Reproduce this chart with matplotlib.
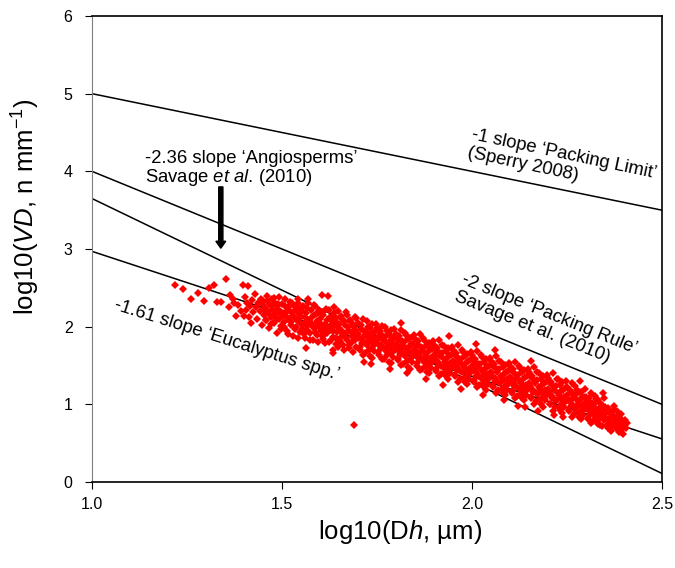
import numpy as np
import matplotlib
matplotlib.use('Agg')
import matplotlib.pyplot as plt

plt.rcParams['font.family'] = 'Liberation Sans'
plt.rcParams['mathtext.fontset'] = 'custom'
plt.rcParams['mathtext.rm'] = 'Liberation Sans'
plt.rcParams['mathtext.it'] = 'Liberation Sans:italic'

# reference scaling lines: log10(VD) = intercept + slope * log10(Dh)
slopes = [-1.0, -2.0, -2.36, -1.61]
intercepts = [6.0, 6.0, 6.01, 4.58]

# Eucalyptus vessels, (log10 Dh, log10 VD)
eucalyptus = [
    (1.218, 2.54), (1.240, 2.48), (1.260, 2.36), (1.280, 2.43), (1.295, 2.33), (1.308, 2.50),
    (1.320, 2.54), (1.330, 2.32), (1.340, 2.32), (1.352, 2.61), (1.360, 2.25), (1.363, 2.41),
    (1.372, 2.36), (1.375, 2.30), (1.380, 2.14), (1.385, 2.28), (1.392, 2.20), (1.397, 2.54),
    (1.400, 2.14), (1.410, 2.52),
    (1.402, 2.38), (1.405, 2.22), (1.408, 2.30), (1.412, 2.12), (1.415, 2.27), (1.418, 2.05),
    (1.421, 2.34), (1.424, 2.19), (1.428, 2.42), (1.431, 2.25), (1.434, 2.10), (1.437, 2.31),
    (1.441, 2.20), (1.444, 2.36), (1.447, 2.02), (1.449, 2.28),
    (1.451, 2.33), (1.453, 2.15), (1.456, 2.24), (1.458, 2.08), (1.461, 2.40), (1.463, 2.19),
    (1.466, 1.98), (1.468, 2.28), (1.471, 2.12), (1.473, 2.35), (1.476, 2.22), (1.478, 2.05),
    (1.481, 2.30), (1.483, 2.17), (1.486, 1.92), (1.488, 2.26), (1.491, 2.10), (1.493, 2.38),
    (1.496, 2.20), (1.498, 2.01),
    (1.501, 2.29), (1.503, 2.14), (1.506, 2.06), (1.508, 2.35), (1.511, 2.19), (1.513, 1.95),
    (1.516, 2.25), (1.518, 2.09), (1.521, 2.32), (1.523, 2.02), (1.526, 2.18), (1.528, 1.88),
    (1.531, 2.27), (1.533, 2.11), (1.536, 2.21), (1.538, 1.99), (1.541, 2.30), (1.543, 2.07),
    (1.546, 2.16), (1.548, 1.93), (1.549, 2.24),
    (1.551, 2.12), (1.553, 1.97), (1.556, 2.26), (1.558, 2.05), (1.561, 1.86), (1.562, 1.72),
    (1.563, 2.18), (1.566, 2.01), (1.568, 2.31), (1.571, 2.09), (1.573, 1.92), (1.576, 2.21),
    (1.578, 2.03), (1.581, 1.83), (1.583, 2.15), (1.586, 1.98), (1.588, 2.27), (1.591, 2.07),
    (1.593, 1.89), (1.596, 2.17), (1.598, 2.00),
    (1.601, 2.10), (1.603, 1.94), (1.605, 2.41), (1.607, 2.19), (1.609, 1.84), (1.612, 2.04),
    (1.614, 1.90), (1.617, 2.23), (1.619, 1.99), (1.621, 2.39), (1.623, 1.80), (1.626, 2.13),
    (1.628, 1.96), (1.631, 2.07), (1.633, 1.87), (1.635, 1.70), (1.636, 2.17), (1.638, 2.01),
    (1.641, 1.78), (1.643, 2.11), (1.646, 1.93), (1.648, 2.20),
    (1.651, 2.03), (1.653, 1.86), (1.656, 2.14), (1.658, 1.95), (1.661, 1.76), (1.663, 2.07),
    (1.666, 1.90), (1.668, 2.19), (1.671, 1.83), (1.673, 1.99), (1.676, 1.72), (1.678, 2.09),
    (1.681, 1.93), (1.683, 1.80), (1.686, 2.02), (1.688, 1.87), (1.690, 0.73), (1.691, 2.13),
    (1.693, 1.96), (1.696, 1.74), (1.698, 1.91),
    (1.701, 2.05), (1.703, 1.85), (1.706, 1.70), (1.708, 1.97), (1.711, 1.79), (1.713, 2.10),
    (1.715, 1.55), (1.716, 1.88), (1.718, 1.66), (1.721, 1.93), (1.723, 1.76), (1.726, 2.00),
    (1.728, 1.83), (1.731, 1.62), (1.733, 1.90), (1.735, 1.52), (1.736, 1.73), (1.738, 2.03),
    (1.741, 1.86), (1.743, 1.69), (1.746, 1.95), (1.748, 1.80),
    (1.751, 1.98), (1.753, 1.78), (1.756, 1.64), (1.758, 1.90), (1.761, 1.72), (1.763, 2.01),
    (1.766, 1.83), (1.768, 1.58), (1.771, 1.87), (1.773, 1.69), (1.776, 1.94), (1.778, 1.75),
    (1.781, 1.55), (1.783, 1.81), (1.785, 1.45), (1.786, 1.66), (1.788, 1.96), (1.791, 1.78),
    (1.793, 1.61), (1.796, 1.86), (1.798, 1.70),
    (1.801, 1.91), (1.803, 1.72), (1.806, 1.57), (1.808, 1.83), (1.811, 1.65), (1.812, 2.05),
    (1.813, 1.96), (1.816, 1.76), (1.818, 1.52), (1.821, 1.80), (1.823, 1.62), (1.826, 1.89),
    (1.828, 1.69), (1.829, 1.40), (1.831, 1.48), (1.833, 1.74), (1.836, 1.59), (1.838, 1.86),
    (1.841, 1.67), (1.843, 1.54), (1.846, 1.78), (1.848, 1.63),
    (1.851, 1.84), (1.853, 1.65), (1.856, 1.50), (1.858, 1.76), (1.861, 1.58), (1.863, 1.90),
    (1.866, 1.69), (1.868, 1.46), (1.871, 1.73), (1.873, 1.55), (1.876, 1.82), (1.878, 1.62),
    (1.880, 1.32), (1.881, 1.42), (1.883, 1.67), (1.886, 1.52), (1.888, 1.79), (1.891, 1.60),
    (1.893, 1.47), (1.896, 1.71), (1.898, 1.56),
    (1.901, 1.77), (1.903, 1.58), (1.906, 1.43), (1.908, 1.69), (1.911, 1.51), (1.913, 1.83),
    (1.916, 1.62), (1.918, 1.39), (1.921, 1.66), (1.923, 1.48), (1.925, 1.25), (1.926, 1.75),
    (1.928, 1.55), (1.931, 1.36), (1.933, 1.60), (1.936, 1.45), (1.938, 1.72), (1.940, 1.88),
    (1.941, 1.53), (1.943, 1.40), (1.946, 1.64), (1.948, 1.49),
    (1.951, 1.70), (1.953, 1.51), (1.956, 1.36), (1.958, 1.62), (1.961, 1.44), (1.963, 1.76),
    (1.966, 1.55), (1.968, 1.32), (1.970, 1.20), (1.971, 1.59), (1.973, 1.41), (1.976, 1.68),
    (1.978, 1.48), (1.981, 1.29), (1.983, 1.53), (1.986, 1.38), (1.988, 1.65), (1.991, 1.46),
    (1.993, 1.33), (1.996, 1.57), (1.998, 1.42),
    (2.001, 1.63), (2.003, 1.44), (2.006, 1.29), (2.008, 1.55), (2.010, 1.78), (2.011, 1.37),
    (2.013, 1.69), (2.016, 1.48), (2.018, 1.25), (2.021, 1.52), (2.023, 1.34), (2.026, 1.61),
    (2.028, 1.41), (2.030, 1.12), (2.031, 1.22), (2.033, 1.46), (2.036, 1.31), (2.038, 1.58),
    (2.041, 1.39), (2.043, 1.26), (2.046, 1.50), (2.048, 1.35),
    (2.051, 1.56), (2.053, 1.37), (2.056, 1.22), (2.058, 1.48), (2.060, 1.70), (2.061, 1.30),
    (2.063, 1.62), (2.066, 1.41), (2.068, 1.18), (2.071, 1.45), (2.073, 1.27), (2.076, 1.54),
    (2.078, 1.34), (2.081, 1.15), (2.083, 1.39), (2.085, 1.05), (2.086, 1.24), (2.088, 1.51),
    (2.091, 1.32), (2.093, 1.19), (2.096, 1.43), (2.098, 1.28),
    (2.101, 1.49), (2.103, 1.30), (2.106, 1.15), (2.108, 1.41), (2.111, 1.23), (2.113, 1.55),
    (2.116, 1.34), (2.118, 1.11), (2.120, 0.98), (2.121, 1.38), (2.123, 1.20), (2.126, 1.47),
    (2.128, 1.27), (2.131, 1.08), (2.133, 1.32), (2.136, 1.17), (2.138, 1.44), (2.140, 0.96),
    (2.141, 1.25), (2.143, 1.12), (2.146, 1.36), (2.148, 1.21),
    (2.151, 1.42), (2.153, 1.23), (2.155, 1.56), (2.156, 1.08), (2.158, 1.34), (2.161, 1.16),
    (2.163, 1.48), (2.166, 1.27), (2.168, 1.04), (2.171, 1.31), (2.173, 1.13), (2.175, 0.92),
    (2.176, 1.40), (2.178, 1.20), (2.181, 1.01), (2.183, 1.25), (2.186, 1.10), (2.188, 1.37),
    (2.191, 1.18), (2.193, 1.05), (2.196, 1.29), (2.198, 1.14),
    (2.201, 1.34), (2.203, 1.15), (2.206, 1.00), (2.208, 1.26), (2.211, 1.08), (2.213, 1.40),
    (2.215, 0.86), (2.216, 1.19), (2.218, 0.96), (2.221, 1.23), (2.223, 1.05), (2.226, 1.32),
    (2.228, 1.12), (2.231, 0.93), (2.233, 1.17), (2.236, 1.02), (2.238, 1.29), (2.240, 0.84),
    (2.241, 1.10), (2.243, 0.97), (2.246, 1.21), (2.248, 1.06),
    (2.251, 1.22), (2.253, 1.05), (2.256, 0.91), (2.258, 1.15), (2.261, 0.98), (2.263, 1.27),
    (2.266, 1.08), (2.268, 0.88), (2.271, 1.12), (2.273, 0.95), (2.276, 1.19), (2.278, 1.01),
    (2.281, 0.84), (2.283, 1.06), (2.285, 1.30), (2.286, 0.92), (2.288, 1.16), (2.291, 0.99),
    (2.293, 0.86), (2.296, 1.09), (2.298, 0.94),
    (2.301, 1.10), (2.303, 0.94), (2.306, 0.81), (2.308, 1.03), (2.311, 0.88), (2.313, 1.14),
    (2.316, 0.97), (2.318, 0.78), (2.321, 1.00), (2.323, 0.85), (2.326, 1.07), (2.328, 0.91),
    (2.331, 0.75), (2.333, 0.95), (2.336, 0.82), (2.338, 1.02), (2.341, 0.87), (2.343, 0.72),
    (2.345, 1.15), (2.346, 0.93), (2.348, 0.80),
    (2.351, 0.96), (2.354, 0.83), (2.357, 0.70), (2.360, 0.90), (2.363, 0.77), (2.366, 0.66),
    (2.369, 0.86), (2.372, 0.73), (2.375, 0.93), (2.378, 0.80), (2.381, 0.68), (2.384, 0.85),
    (2.387, 0.74), (2.391, 0.64), (2.392, 0.88), (2.395, 0.79), (2.398, 0.70),
    # second batch of trees
    (1.4537, 2.21), (1.4592, 2.09), (1.4618, 2.33), (1.4655, 2.16), (1.4703, 2.03), (1.4721, 2.26),
    (1.4769, 2.14), (1.4784, 2.37), (1.4812, 2.07), (1.4856, 2.23), (1.4879, 2.11), (1.4903, 2.29),
    (1.4947, 2.17), (1.4972, 1.97),
    (1.5024, 2.18), (1.5061, 2.00), (1.5087, 2.27), (1.5123, 2.12), (1.5158, 1.91), (1.5194, 2.22),
    (1.5227, 2.06), (1.5262, 2.31), (1.5291, 2.14), (1.5334, 1.97), (1.5368, 2.25), (1.5399, 2.09),
    (1.5427, 1.86), (1.5463, 2.19), (1.5489, 2.03), (1.5412, 2.36),
    (1.5516, 2.20), (1.5543, 2.02), (1.5579, 1.90), (1.5608, 2.13), (1.5647, 1.96), (1.5671, 2.24),
    (1.5712, 2.06), (1.5738, 1.83), (1.5769, 2.11), (1.5803, 1.99), (1.5841, 2.28), (1.5866, 1.93),
    (1.5897, 2.16), (1.5928, 2.04), (1.5953, 1.80), (1.5984, 2.22), (1.5687, 2.35),
    (1.6018, 2.03), (1.6047, 1.88), (1.6083, 2.15), (1.6104, 1.97), (1.6139, 1.79), (1.6172, 2.08),
    (1.6196, 1.92), (1.6228, 2.21), (1.6257, 2.01), (1.6289, 1.83), (1.6316, 2.12), (1.6348, 1.95),
    (1.6374, 2.25), (1.6409, 1.86), (1.6437, 2.05), (1.6462, 1.74), (1.6493, 1.98), (1.6352, 1.66),
    (1.6512, 1.97), (1.6539, 1.81), (1.6574, 2.10), (1.6598, 1.90), (1.6627, 1.70), (1.6659, 2.02),
    (1.6684, 1.85), (1.6716, 2.15), (1.6743, 1.94), (1.6772, 1.77), (1.6805, 2.06), (1.6831, 1.88),
    (1.6866, 1.68), (1.6893, 1.99), (1.6918, 1.83), (1.6951, 2.11), (1.6979, 1.92),
    (1.7013, 1.90), (1.7042, 1.74), (1.7075, 2.02), (1.7101, 1.84), (1.7134, 1.64), (1.7163, 1.95),
    (1.7192, 1.79), (1.7224, 2.07), (1.7251, 1.87), (1.7283, 1.70), (1.7317, 1.98), (1.7342, 1.81),
    (1.7378, 1.60), (1.7405, 1.92), (1.7433, 1.76), (1.7468, 2.04), (1.7492, 1.85),
    (1.7508, 1.83), (1.7537, 1.67), (1.7569, 1.95), (1.7596, 1.77), (1.7628, 1.58), (1.7654, 1.88),
    (1.7687, 1.72), (1.7718, 2.00), (1.7746, 1.80), (1.7773, 1.63), (1.7809, 1.91), (1.7838, 1.74),
    (1.7864, 1.53), (1.7897, 1.85), (1.7925, 1.69), (1.7953, 1.97), (1.7988, 1.78),
    (1.8016, 1.76), (1.8043, 1.60), (1.8077, 1.88), (1.8102, 1.70), (1.8138, 1.51), (1.8161, 1.81),
    (1.8193, 1.65), (1.8227, 1.92), (1.8254, 1.73), (1.8281, 1.56), (1.8312, 1.84), (1.8347, 1.67),
    (1.8373, 1.46), (1.8408, 1.78), (1.8436, 1.62), (1.8464, 1.89), (1.8491, 1.71),
    (1.8514, 1.69), (1.8546, 1.53), (1.8572, 1.81), (1.8607, 1.63), (1.8633, 1.44), (1.8668, 1.74),
    (1.8694, 1.58), (1.8721, 1.85), (1.8759, 1.66), (1.8786, 1.49), (1.8815, 1.77), (1.8843, 1.60),
    (1.8872, 1.40), (1.8901, 1.71), (1.8938, 1.55), (1.8962, 1.82), (1.8994, 1.64),
    (1.9011, 1.61), (1.9048, 1.45), (1.9074, 1.73), (1.9103, 1.55), (1.9136, 1.36), (1.9165, 1.66),
    (1.9197, 1.50), (1.9223, 1.77), (1.9258, 1.58), (1.9284, 1.41), (1.9319, 1.69), (1.9341, 1.52),
    (1.9377, 1.33), (1.9402, 1.63), (1.9436, 1.47), (1.9467, 1.74), (1.9493, 1.56),
    (1.9517, 1.54), (1.9542, 1.38), (1.9578, 1.66), (1.9601, 1.48), (1.9633, 1.29), (1.9668, 1.59),
    (1.9692, 1.43), (1.9726, 1.70), (1.9753, 1.51), (1.9781, 1.34), (1.9814, 1.62), (1.9846, 1.45),
    (1.9873, 1.26), (1.9905, 1.56), (1.9932, 1.40), (1.9961, 1.67), (1.9989, 1.49),
    (2.0014, 1.47), (2.0043, 1.31), (2.0071, 1.59), (2.0105, 1.41), (2.0132, 1.22), (2.0167, 1.52),
    (2.0193, 1.36), (2.0225, 1.63), (2.0256, 1.44), (2.0284, 1.27), (2.0318, 1.55), (2.0345, 1.38),
    (2.0371, 1.19), (2.0406, 1.49), (2.0433, 1.33), (2.0462, 1.60), (2.0497, 1.42),
    (2.0512, 1.40), (2.0547, 1.24), (2.0574, 1.52), (2.0608, 1.34), (2.0631, 1.15), (2.0665, 1.45),
    (2.0696, 1.29), (2.0722, 1.56), (2.0757, 1.37), (2.0788, 1.20), (2.0813, 1.48), (2.0849, 1.31),
    (2.0876, 1.12), (2.0903, 1.42), (2.0935, 1.26), (2.0968, 1.53), (2.0991, 1.35),
    (2.1016, 1.33), (2.1044, 1.17), (2.1078, 1.45), (2.1103, 1.27), (2.1139, 1.08), (2.1162, 1.38),
    (2.1195, 1.22), (2.1227, 1.49), (2.1253, 1.30), (2.1286, 1.13), (2.1314, 1.41), (2.1348, 1.24),
    (2.1375, 1.05), (2.1407, 1.35), (2.1439, 1.19), (2.1463, 1.46), (2.1496, 1.28),
    (2.1513, 1.25), (2.1548, 1.09), (2.1576, 1.37), (2.1602, 1.19), (2.1634, 1.00), (2.1667, 1.30),
    (2.1691, 1.14), (2.1724, 1.41), (2.1758, 1.22), (2.1783, 1.05), (2.1817, 1.33), (2.1842, 1.16),
    (2.1879, 0.97), (2.1904, 1.27), (2.1936, 1.11), (2.1965, 1.38), (2.1992, 1.20),
    (2.2017, 1.17), (2.2043, 1.01), (2.2072, 1.29), (2.2106, 1.11), (2.2134, 0.92), (2.2169, 1.22),
    (2.2192, 1.06), (2.2228, 1.33), (2.2251, 1.14), (2.2287, 0.97), (2.2313, 1.25), (2.2349, 1.08),
    (2.2378, 0.89), (2.2402, 1.19), (2.2437, 1.03), (2.2466, 1.30), (2.2495, 1.12),
    (2.2512, 1.08), (2.2541, 0.93), (2.2577, 1.19), (2.2604, 1.02), (2.2638, 0.84), (2.2663, 1.13),
    (2.2697, 0.97), (2.2721, 1.23), (2.2754, 1.05), (2.2786, 0.89), (2.2818, 1.16), (2.2844, 0.99),
    (2.2873, 0.81), (2.2906, 1.10), (2.2933, 0.95), (2.2968, 1.20), (2.2994, 1.03),
    (2.3015, 0.98), (2.3047, 0.83), (2.3074, 1.08), (2.3108, 0.92), (2.3136, 0.76), (2.3164, 1.02),
    (2.3197, 0.87), (2.3225, 1.11), (2.3259, 0.94), (2.3283, 0.79), (2.3317, 1.05), (2.3342, 0.89),
    (2.3376, 0.73), (2.3409, 0.99), (2.3438, 0.85), (2.3462, 1.08), (2.3497, 0.92),
    (2.3512, 0.87), (2.3546, 0.74), (2.3578, 0.95), (2.3609, 0.81), (2.3637, 0.68), (2.3665, 0.90),
    (2.3698, 0.77), (2.3726, 0.98), (2.3755, 0.84), (2.3789, 0.71), (2.3814, 0.91), (2.3847, 0.78),
    (2.3876, 0.65), (2.3903, 0.83), (2.3941, 0.74), (2.3978, 0.62), (2.4016, 0.80), (2.4052, 0.69),
    (2.4087, 0.76),
]
dh, vd = zip(*eucalyptus)

fig = plt.figure(figsize=(6.75, 5.68), dpi=100)
ax = fig.add_axes([0.1363, 0.1514, 0.8444, 0.8204])

x = np.array([1.0, 2.5])
for b, a in zip(slopes, intercepts):
    ax.plot(x, a + b * x, color='black', lw=1.1, zorder=2)

ax.plot(dh, vd, linestyle='none', marker='D', ms=4.2, color='#ff0000',
        markeredgewidth=0, zorder=3)

ax.set_xlim(1.0, 2.5)
ax.set_ylim(0, 6)
ax.set_xticks([1.0, 1.5, 2.0, 2.5])
ax.set_xticklabels(['1.0', '1.5', '2.0', '2.5'])
ax.set_yticks(range(7))
ax.tick_params(direction='out', length=5, width=0.8, labelsize=11.5, colors='black')
ax.tick_params(axis='y', pad=9)
ax.tick_params(axis='x', pad=6)
for side in ['top', 'right', 'bottom']:
    ax.spines[side].set_linewidth(1.2)
ax.spines['left'].set_color('#7f7f7f')
ax.spines['left'].set_linewidth(0.8)

ax.set_xlabel('log10(D$\\mathit{h}$, µm)', fontsize=18.5)
ax.xaxis.set_label_coords(0.54, -0.077)
ax.set_ylabel('log10($\\mathit{VD}$, n mm$^{-1}$)', fontsize=18.5)
ax.yaxis.set_label_coords(-0.088, 0.59)

# anchors sit on the baseline of the last line of each label
ax.text(1.987, 4.20, '-1 slope \u2018Packing Limit\u2019\n(Sperry 2008)', fontsize=13.3,
        rotation=-12, rotation_mode='anchor', ha='left', va='baseline', linespacing=1.1)
ax.text(1.952, 2.36, '-2 slope \u2018Packing Rule\u2019\nSavage et al. (2010)', fontsize=13.3,
        rotation=-22, rotation_mode='anchor', ha='left', va='baseline', linespacing=1.1)
ax.text(1.055, 2.23, '-1.61 slope \u2018Eucalyptus spp.\u2019', fontsize=13.3,
        rotation=-17.5, rotation_mode='anchor', ha='left', va='baseline')
ax.text(1.139, 4.28, '-2.36 slope \u2018Angiosperms\u2019\nSavage $\\mathit{et\\ al}$. (2010)',
        fontsize=13.3, ha='left', va='top', linespacing=1.0)

ax.arrow(1.339, 3.80, 0, -0.79, width=0.011, head_width=0.026, head_length=0.09,
         length_includes_head=True, color='black', zorder=4)

fig.savefig('out.png', dpi=100)
